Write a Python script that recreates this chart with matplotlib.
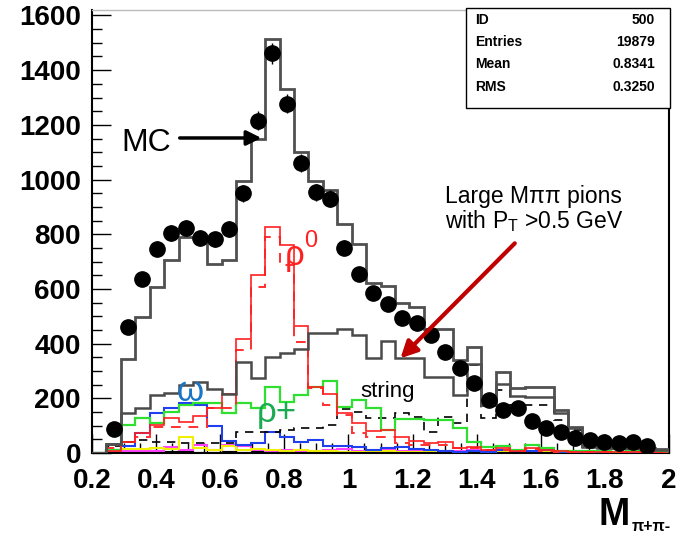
import numpy as np
import matplotlib
matplotlib.use("Agg")
import matplotlib.pyplot as plt
from matplotlib.patches import Rectangle
from matplotlib.ticker import MultipleLocator, FixedLocator, FixedFormatter

plt.rcParams['font.family'] = ['Liberation Sans', 'DejaVu Sans']
plt.rcParams['mathtext.default'] = 'regular'

# 40 bins of M(pi+ pi-) from 0.2 to 2.0 GeV
edges = np.linspace(0.2, 2.0, 41)
centers = 0.5 * (edges[:-1] + edges[1:])

data = [0, 88, 461, 637, 747, 804, 824, 786, 782, 820,
        950, 1215, 1461, 1278, 1060, 954, 930, 751, 656, 585,
        546, 492, 476, 431, 370, 309, 257, 193, 159, 165,
        118, 90, 78, 54, 47, 41, 35, 41, 27, 0]

mc_total = [0, 32, 345, 497, 607, 704, 789, 789, 692, 704,
            996, 1148, 1513, 1331, 1100, 993, 960, 836, 765, 620,
            610, 550, 535, 455, 455, 339, 388, 175, 297, 236,
            240, 240, 157, 96, 25, 22, 20, 20, 18, 15]

mc_nonres = [0, 32, 148, 165, 212, 218, 250, 258, 235, 216,
             333, 273, 352, 366, 382, 437, 437, 455, 431, 346,
             410, 346, 346, 279, 279, 212, 327, 175, 254, 208,
             206, 206, 145, 90, 22, 20, 18, 18, 16, 12]

rho0 = [0, 8, 41, 72, 102, 128, 114, 135, 165, 215,
        418, 650, 828, 760, 463, 242, 216, 145, 108, 82,
        84, 58, 45, 38, 40, 20, 22, 12, 18, 8,
        20, 10, 6, 5, 4, 3, 3, 2, 2, 1]

rho0_alt = [0, 20, 40, 60, 96, 96, 96, 96, 163, 163,
            376, 607, 790, 686, 406, 236, 175, 139, 72, 60,
            60, 35, 30, 28, 28, 20, 18, 10, 12, 6,
            15, 8, 5, 4, 3, 2, 2, 2, 1, 1]

rho_plus = [0, 10, 102, 127, 108, 151, 175, 181, 181, 145,
            184, 163, 242, 187, 212, 242, 263, 169, 193, 163,
            84, 123, 123, 120, 120, 92, 41, 22, 25, 12,
            28, 18, 8, 8, 8, 6, 5, 8, 3, 2]

omega = [0, 10, 25, 72, 145, 163, 182, 177, 100, 45,
         30, 38, 78, 60, 40, 47, 25, 27, 22, 12,
         20, 22, 15, 10, 8, 5, 6, 5, 10, 8,
         6, 12, 4, 3, 3, 2, 2, 2, 1, 1]

string = [0, 25, 41, 47, 41, 41, 35, 35, 35, 35,
          78, 78, 78, 84, 92, 92, 102, 160, 151, 127,
          127, 145, 133, 78, 133, 108, 320, 127, 230, 175,
          175, 175, 120, 85, 20, 18, 16, 16, 14, 10]

eta = [0, 10, 15, 15, 20, 15, 58, 20, 12, 25,
       10, 15, 10, 8, 10, 8, 6, 5, 5, 4,
       6, 4, 3, 8, 3, 2, 4, 3, 2, 3,
       2, 2, 1, 1, 1, 1, 0, 0, 0, 0]

kstar = [0, 5, 8, 8, 8, 22, 10, 28, 10, 28,
         25, 10, 8, 10, 6, 8, 10, 15, 8, 5,
         12, 8, 6, 5, 8, 6, 10, 6, 4, 8,
         4, 3, 3, 2, 2, 2, 1, 1, 1, 1]

other = [0, 5, 10, 8, 12, 6, 8, 5, 10, 6,
         12, 8, 5, 10, 6, 8, 5, 6, 4, 5,
         6, 4, 5, 3, 4, 3, 5, 3, 4, 3,
         2, 3, 2, 2, 1, 1, 1, 1, 1, 0]

x_ticks = [0.2, 0.4, 0.6, 0.8, 1.0, 1.2, 1.4, 1.6, 1.8, 2.0]
x_tick_labels = ["0.2", "0.4", "0.6", "0.8", "1", "1.2", "1.4", "1.6", "1.8", "2"]
y_ticks = [0, 200, 400, 600, 800, 1000, 1200, 1400, 1600]

stats_names = ["ID", "Entries", "Mean", "RMS"]
stats_values = ["500", "19879", "0.8341", "0.3250"]

fig = plt.figure(figsize=(6.77, 5.35), dpi=100)
ax = fig.add_axes([0.1359, 0.1533, 0.8523, 0.8280])

# component histograms
ax.stairs(other, edges, color='black', lw=0.8, zorder=2)
ax.stairs(kstar, edges, color='#ff40ff', lw=1.5, zorder=2)
ax.stairs(eta, edges, color='#f0f000', lw=1.5, zorder=2)
ax.stairs(omega, edges, color='#2040f0', lw=1.5, zorder=3)
ax.stairs(string, edges, color='black', lw=1.2, ls=(0, (5, 4)), zorder=3)
ax.stairs(rho_plus, edges, color='#30e030', lw=1.6, zorder=3)
ax.stairs(rho0_alt, edges, color='#ff3030', lw=1.4, ls=(0, (5, 4)), zorder=4)
ax.stairs(rho0, edges, color='#ff2020', lw=1.2, zorder=4)

# simulated totals
ax.stairs(mc_nonres, edges, color='#4a4a4a', lw=1.8, zorder=5)
ax.stairs(mc_total, edges, color='#505050', lw=2.0, zorder=5)

# measured spectrum
d = np.array(data, dtype=float)
m = d > 0
ax.errorbar(centers[m], d[m], yerr=np.sqrt(d[m]), fmt='o', color='black',
            markersize=11, elinewidth=1.0, capsize=0, zorder=6)

ax.set_xlim(0.2, 2.0)
ax.set_ylim(0, 1620)

ax.xaxis.set_major_locator(FixedLocator(x_ticks))
ax.xaxis.set_major_formatter(FixedFormatter(x_tick_labels))
ax.xaxis.set_minor_locator(MultipleLocator(0.05))
ax.yaxis.set_major_locator(FixedLocator(y_ticks))
ax.yaxis.set_minor_locator(MultipleLocator(50))
ax.tick_params(which='both', direction='in', top=False, right=False, width=1.0)
ax.tick_params(which='major', length=14)
ax.tick_params(which='minor', length=7)
ax.tick_params(axis='x', which='major', pad=11, labelsize=20)
ax.tick_params(axis='y', which='major', pad=8, labelsize=20)
for lab in ax.get_xticklabels() + ax.get_yticklabels():
    lab.set_fontweight('bold')

for side in ['left', 'bottom', 'right']:
    ax.spines[side].set_linewidth(1.5)
    ax.spines[side].set_color('black')
ax.spines['top'].set_color('#bbbbbb')
ax.spines['top'].set_linewidth(1.0)

# labels on the plot
ax.text(0.293, 1106, "MC", fontsize=23, ha='left', va='baseline', zorder=7)
ax.annotate('', xy=(0.737, 1152), xytext=(0.465, 1152),
            arrowprops=dict(arrowstyle='-|>', lw=2.5, color='black',
                            mutation_scale=22), zorder=7)
ax.text(0.802, 686, "ρ", fontsize=25, color='#ff2020', ha='left', va='baseline', zorder=7)
ax.text(0.862, 752, "0", fontsize=17, color='#ff2020', ha='left', va='baseline', zorder=7)
ax.text(0.465, 190, "ω", fontsize=25, color='#1a75c4', ha='left', va='baseline', zorder=7)
ax.text(0.715, 113, "ρ+", fontsize=25, color='#1aaa50', ha='left', va='baseline', zorder=7)
ax.text(1.036, 205, "string", fontsize=16, color='black', ha='left', va='baseline', zorder=7)

ax.text(1.301, 916, "Large Mππ pions", fontsize=16.5, ha='left', va='baseline', zorder=7)
ax.text(1.301, 821, "with P$_{T}$ >0.5 GeV", fontsize=16.5, ha='left', va='baseline', zorder=7)
ax.annotate('', xy=(1.156, 339), xytext=(1.525, 774),
            arrowprops=dict(arrowstyle='-|>', lw=3, color='#c00000',
                            mutation_scale=25), zorder=7)

# axis title
fig.text(0.884, 0.0187, "M", fontsize=27, fontweight='bold', ha='left', va='baseline')
fig.text(0.933, 0.008, "π+π-", fontsize=11.5, fontweight='bold', ha='left', va='baseline')

# statistics box
box = Rectangle((0.6883, 0.7981), 0.3013, 0.1869, transform=fig.transFigure,
                facecolor='white', edgecolor='black', lw=1.0, zorder=10)
fig.add_artist(box)
for i, (name, val) in enumerate(zip(stats_names, stats_values)):
    yy = 0.9626 - i * 0.0415
    fig.text(0.7016, yy, name, fontsize=10, fontweight='bold', ha='left',
             va='center', zorder=11)
    fig.text(0.9675, yy, val, fontsize=10, fontweight='bold', ha='right',
             va='center', zorder=11)

fig.savefig("out.png", dpi=100)
